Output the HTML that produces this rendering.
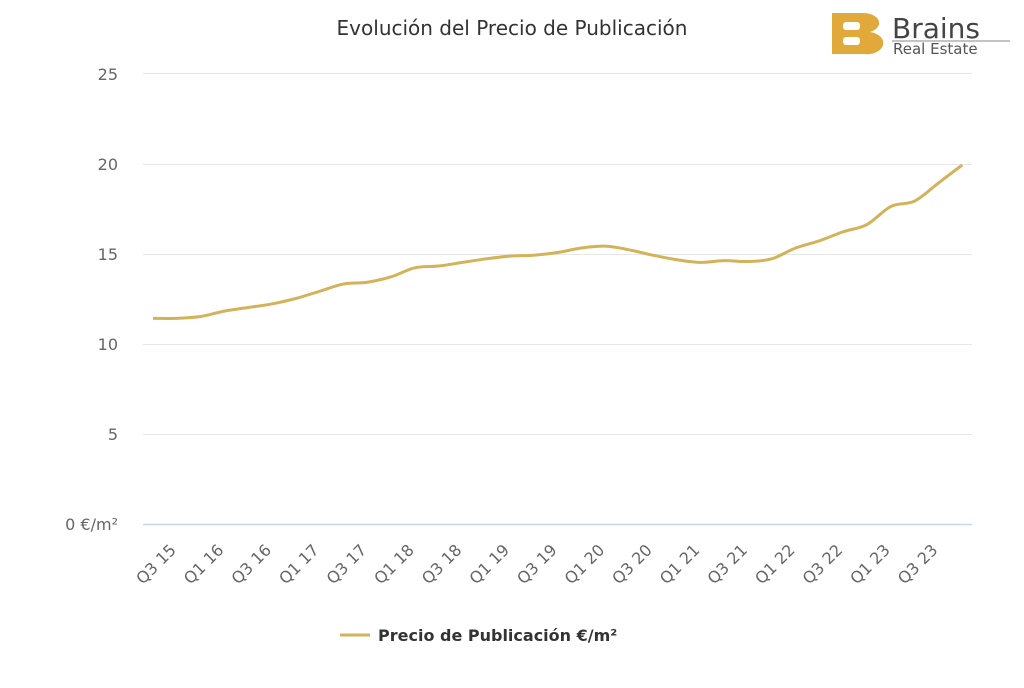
<!DOCTYPE html>
<html><head><meta charset="utf-8"><style>
body{margin:0;background:#fff;width:1024px;height:683px;overflow:hidden}
text{font-family:"DejaVu Sans","Liberation Sans",sans-serif}
</style></head><body>
<svg width="1024" height="683" viewBox="0 0 1024 683">
<text x="512" y="35" text-anchor="middle" font-size="20" fill="#333">Evolución del Precio de Publicación</text>
<g stroke="#e6e6e6" stroke-width="1">
<line x1="143" x2="972" y1="73.5" y2="73.5"/>
<line x1="143" x2="972" y1="164.5" y2="164.5"/>
<line x1="143" x2="972" y1="254.5" y2="254.5"/>
<line x1="143" x2="972" y1="344.5" y2="344.5"/>
<line x1="143" x2="972" y1="434.5" y2="434.5"/>
</g>
<line x1="143" x2="972" y1="524.5" y2="524.5" stroke="#ccd6eb" stroke-width="1.5"/>
<g font-size="16" fill="#666" text-anchor="end">
<text x="118" y="80">25</text><text x="118" y="170">20</text><text x="118" y="260">15</text>
<text x="118" y="350">10</text><text x="118" y="440">5</text><text x="118" y="530">0 €/m²</text>
</g>
<g id="xl" font-size="16" fill="#666" text-anchor="end"></g>
<path id="ln" fill="none" stroke="#d4b25a" stroke-width="3"/>
<line x1="340" x2="370" y1="635" y2="635" stroke="#d4b25a" stroke-width="3"/>
<text x="378" y="641" font-size="16" font-weight="bold" fill="#333">Precio de Publicación €/m²</text>
<path d="M832,13 H862 A16,10 0 0 1 870,32 A16,11 0 0 1 864,54 H832 Z" fill="#e0a93a"/>
<rect x="843" y="22" width="17" height="8" rx="3" fill="#fff"/>
<rect x="843" y="37" width="17" height="8" rx="3" fill="#fff"/>
<text x="892" y="38" font-size="28" fill="#444">Brains</text>
<line x1="892" x2="1010" y1="41" y2="41" stroke="#888"/>
<text x="893" y="54" font-size="15" fill="#555">Real Estate</text>
</svg>
<script>
var d=[11.4,11.4,11.5,11.8,12.0,12.2,12.5,12.9,13.3,13.4,13.7,14.2,14.3,14.5,14.7,14.85,14.9,15.05,15.3,15.4,15.2,14.9,14.65,14.5,14.6,14.55,14.7,15.3,15.7,16.2,16.6,17.6,17.9,18.9,19.9];
var x0=153,st=23.8,Y=function(v){return 524-v*18.04};
var p=d.map(function(v,i){return [x0+i*st,Y(v)]});
var s="M"+p[0][0]+","+p[0][1];
for(var i=0;i<p.length-1;i++){var a=p[i-1]||p[i],b=p[i],c=p[i+1],e=p[i+2]||c;
s+=" C"+(b[0]+(c[0]-a[0])/6)+","+(b[1]+(c[1]-a[1])/6)+" "+(c[0]-(e[0]-b[0])/6)+","+(c[1]-(e[1]-b[1])/6)+" "+c[0]+","+c[1];}
document.getElementById("ln").setAttribute("d",s);
var g=document.getElementById("xl"),h="";
for(var i=0;i<33;i+=2){var q=(i%4==0)?"Q3 ":"Q1 ";var yr=15+Math.floor((i+2)/4);
var x=x0+i*st+24;h+='<text transform="translate('+x+',551) rotate(-45)">'+q+yr+'</text>';}
g.innerHTML=h;
</script>
</body></html>
